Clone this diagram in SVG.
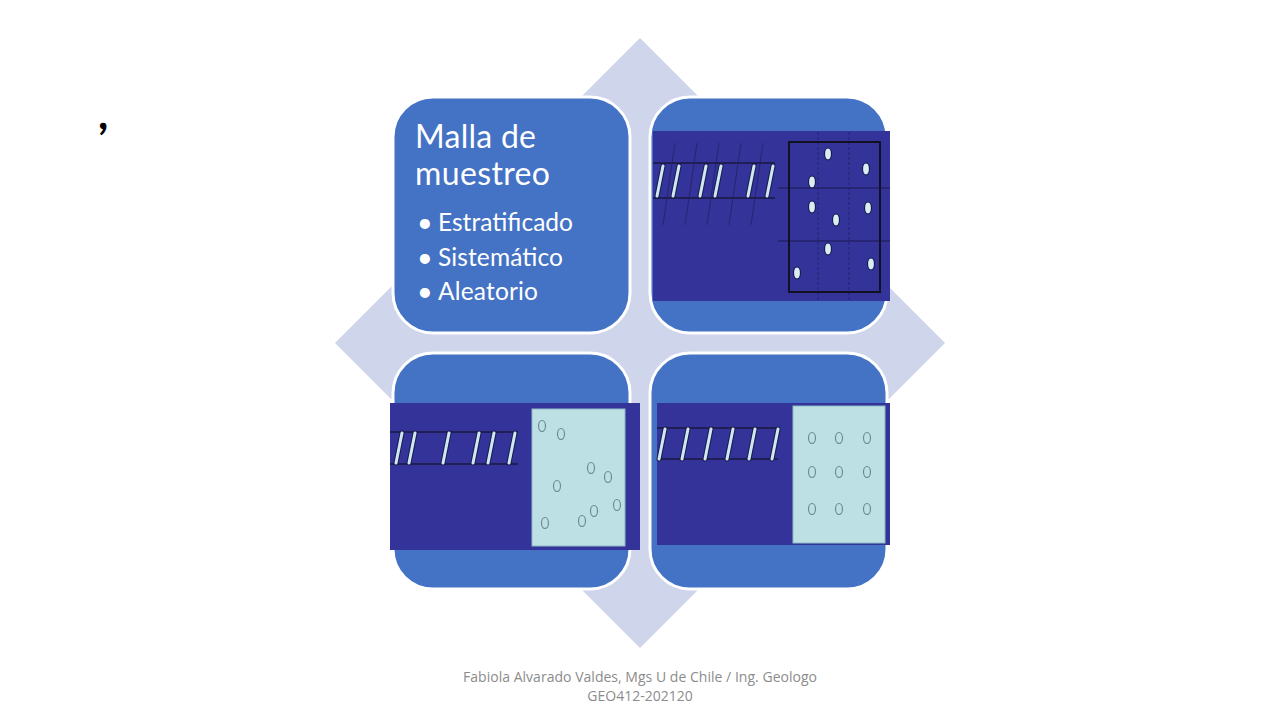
<svg xmlns="http://www.w3.org/2000/svg" width="1280" height="720" viewBox="0 0 1280 720">
<style>
.box{fill:#4472C4;stroke:#FFFFFF;stroke-width:3}
.img{fill:#333399}
.lite{fill:#BDE0E4;stroke:#8FB8C4;stroke-width:1}
.rail{stroke:#1A1A40;stroke-width:1.6}
.sl-o{stroke:#1A1A50;stroke-width:5;stroke-linecap:round}
.sl-i{stroke:#CFE8F0;stroke-width:3;stroke-linecap:round}
.faint{stroke:#22226A;stroke-width:1;opacity:0.8}
.dot{fill:#D8EEF2;stroke:#1A1A50;stroke-width:1.2}
.ring{fill:none;stroke:#6E8A94;stroke-width:1.2}
.t{font-family:Lato,"Open Sans","Liberation Sans",sans-serif;fill:#FFFFFF}
.b{font-family:Lato,"Open Sans","Liberation Sans",sans-serif;fill:#FFFFFF;font-size:27px}
.foot{font-family:"Open Sans",Lato,"Liberation Sans",sans-serif;fill:#8C8C8C;font-size:14px}
</style>
<defs>
<g id="slash"><line class="sl-o" x1="6" y1="0" x2="0" y2="30"/><line class="sl-i" x1="6" y1="0" x2="0" y2="30"/></g>
</defs>
<text x="98" y="129" font-family="Lato,'Liberation Sans',sans-serif" font-size="44" font-weight="bold" fill="#000000">,</text>
<polygon id="diamond" points="640,38 945,343 640,648 335,343" fill="#CFD5EA"/>

<g id="node-malla">
<rect class="box" x="393" y="97" width="237" height="236" rx="40"/>
<text class="t" x="415" y="148" font-size="32" textLength="121">Malla de</text>
<text class="t" x="415" y="185" font-size="32" textLength="135">muestreo</text>
<text class="b" x="417" y="232">•</text>
<text class="t" x="438" y="231" font-size="24.5" textLength="135">Estratificado</text>
<text class="b" x="417" y="267">•</text>
<text class="t" x="438" y="266" font-size="24.5" textLength="125">Sistemático</text>
<text class="b" x="417" y="301">•</text>
<text class="t" x="438" y="300" font-size="24.5" textLength="100">Aleatorio</text>
</g>

<g id="node-estratificado">
<rect class="box" x="650" y="97" width="237" height="236" rx="40"/>
<rect class="img" x="653" y="131" width="237" height="170"/>
<g class="faint">
<line x1="675" y1="143" x2="663" y2="225"/>
<line x1="697" y1="143" x2="685" y2="225"/>
<line x1="719" y1="143" x2="707" y2="225"/>
<line x1="741" y1="143" x2="729" y2="225"/>
<line x1="763" y1="143" x2="751" y2="225"/>
<line x1="818" y1="132" x2="818" y2="300" stroke-dasharray="3,2"/>
<line x1="849" y1="132" x2="849" y2="300" stroke-dasharray="3,2"/>
</g>
<line class="rail" x1="653" y1="163" x2="775" y2="163"/>
<line class="rail" x1="653" y1="198" x2="775" y2="198"/>
<use href="#slash" x="657" y="166"/>
<use href="#slash" x="673" y="166"/>
<use href="#slash" x="700" y="166"/>
<use href="#slash" x="715" y="166"/>
<use href="#slash" x="748" y="166"/>
<use href="#slash" x="767" y="166"/>
<line x1="778" y1="188" x2="890" y2="188" stroke="#1A1A50" stroke-width="1.2"/>
<line x1="778" y1="241" x2="890" y2="241" stroke="#1A1A50" stroke-width="1.2"/>
<rect x="789" y="142" width="91" height="150" fill="none" stroke="#111122" stroke-width="2"/>
<ellipse class="dot" cx="828" cy="154" rx="3.5" ry="6"/>
<ellipse class="dot" cx="866" cy="169" rx="3.5" ry="6"/>
<ellipse class="dot" cx="812" cy="182" rx="3.5" ry="6"/>
<ellipse class="dot" cx="812" cy="207" rx="3.5" ry="6"/>
<ellipse class="dot" cx="868" cy="208" rx="3.5" ry="6"/>
<ellipse class="dot" cx="836" cy="220" rx="3.5" ry="6"/>
<ellipse class="dot" cx="828" cy="249" rx="3.5" ry="6"/>
<ellipse class="dot" cx="871" cy="264" rx="3.5" ry="6"/>
<ellipse class="dot" cx="797" cy="273" rx="3.5" ry="6"/>
</g>

<g id="node-aleatorio">
<rect class="box" x="393" y="353" width="237" height="236" rx="40"/>
<rect class="img" x="390" y="403" width="250" height="147"/>
<line class="rail" x1="390" y1="432" x2="518" y2="432"/>
<line class="rail" x1="390" y1="464" x2="518" y2="464"/>
<use href="#slash" x="396" y="433"/>
<use href="#slash" x="409" y="433"/>
<use href="#slash" x="443" y="433"/>
<use href="#slash" x="473" y="433"/>
<use href="#slash" x="488" y="433"/>
<use href="#slash" x="509" y="433"/>
<rect class="lite" x="532" y="409" width="93" height="137"/>
<ellipse class="ring" cx="542" cy="426" rx="3.5" ry="5.5"/>
<ellipse class="ring" cx="561" cy="434" rx="3.5" ry="5.5"/>
<ellipse class="ring" cx="591" cy="468" rx="3.5" ry="5.5"/>
<ellipse class="ring" cx="608" cy="477" rx="3.5" ry="5.5"/>
<ellipse class="ring" cx="557" cy="486" rx="3.5" ry="5.5"/>
<ellipse class="ring" cx="617" cy="505" rx="3.5" ry="5.5"/>
<ellipse class="ring" cx="594" cy="511" rx="3.5" ry="5.5"/>
<ellipse class="ring" cx="582" cy="521" rx="3.5" ry="5.5"/>
<ellipse class="ring" cx="545" cy="523" rx="3.5" ry="5.5"/>
</g>

<g id="node-sistematico">
<rect class="box" x="650" y="353" width="237" height="236" rx="40"/>
<rect class="img" x="657" y="403" width="233" height="142"/>
<line class="rail" x1="657" y1="428" x2="778" y2="428"/>
<line class="rail" x1="657" y1="459" x2="778" y2="459"/>
<use href="#slash" x="659" y="429"/>
<use href="#slash" x="682" y="429"/>
<use href="#slash" x="705" y="429"/>
<use href="#slash" x="727" y="429"/>
<use href="#slash" x="749" y="429"/>
<use href="#slash" x="772" y="429"/>
<rect class="lite" x="793" y="406" width="92" height="137"/>
<ellipse class="ring" cx="812" cy="438" rx="3.5" ry="5.5"/>
<ellipse class="ring" cx="839" cy="438" rx="3.5" ry="5.5"/>
<ellipse class="ring" cx="867" cy="438" rx="3.5" ry="5.5"/>
<ellipse class="ring" cx="812" cy="472" rx="3.5" ry="5.5"/>
<ellipse class="ring" cx="839" cy="472" rx="3.5" ry="5.5"/>
<ellipse class="ring" cx="867" cy="472" rx="3.5" ry="5.5"/>
<ellipse class="ring" cx="812" cy="509" rx="3.5" ry="5.5"/>
<ellipse class="ring" cx="839" cy="509" rx="3.5" ry="5.5"/>
<ellipse class="ring" cx="867" cy="509" rx="3.5" ry="5.5"/>
</g>

<g id="connectors"></g>

<text class="foot" x="640" y="682" text-anchor="middle" textLength="354">Fabiola Alvarado Valdes, Mgs U de Chile / Ing. Geologo</text>
<text class="foot" x="640" y="701" text-anchor="middle">GEO412-202120</text>
</svg>
